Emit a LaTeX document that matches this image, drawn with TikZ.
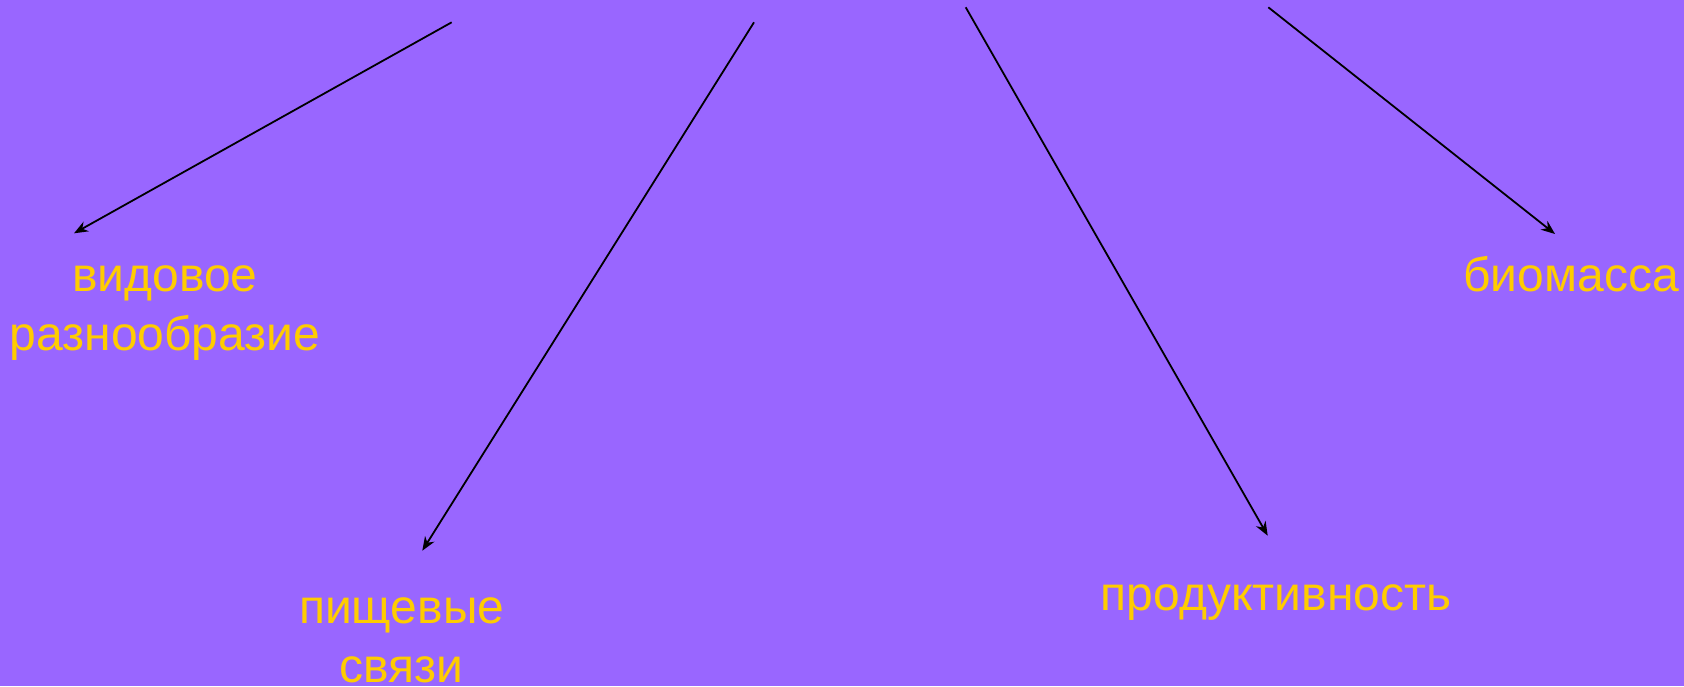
\documentclass[tikz,border=0pt]{standalone}
\usepackage{fontspec}
\setmainfont{Liberation Sans}
\usetikzlibrary{arrows.meta}
\definecolor{bgviolet}{HTML}{9966FF}
\definecolor{txtgold}{HTML}{FFCC00}
\tikzset{
  lbl/.style={text=txtgold, font=\fontsize{24}{29.3}\selectfont, inner sep=0pt, anchor=base, align=center},
  arr/.style={draw=black, line width=0.9pt, -{Stealth[length=7pt,width=5.5pt]}}
}
\begin{document}
\begin{tikzpicture}[x=0.5pt,y=-0.5pt]
\fill[bgviolet] (0,0) rectangle (1684,686);
\useasboundingbox (0,0) rectangle (1684,686);
\node[lbl] (vid) at (165,350) {видовое\\разнообразие};
\node[lbl] (pish) at (401.7,682) {пищевые\\связи};
\node[lbl] (prod) at (1276,610) {продуктивность};
\node[lbl] (bio) at (1571,291.5) {биомасса};
\coordinate (s1) at (451.7,22.3);
\coordinate (e1) at (74,233.3);
\coordinate (s2) at (754,22.3);
\coordinate (e2) at (422.3,550.7);
\coordinate (s3) at (965.7,7.3);
\coordinate (e3) at (1267.7,535.7);
\coordinate (s4) at (1268.3,7.3);
\coordinate (e4) at (1555,234);
\draw[arr] (s1) -- (e1);
\draw[arr] (s2) -- (e2);
\draw[arr] (s3) -- (e3);
\draw[arr] (s4) -- (e4);
\end{tikzpicture}
\end{document}
